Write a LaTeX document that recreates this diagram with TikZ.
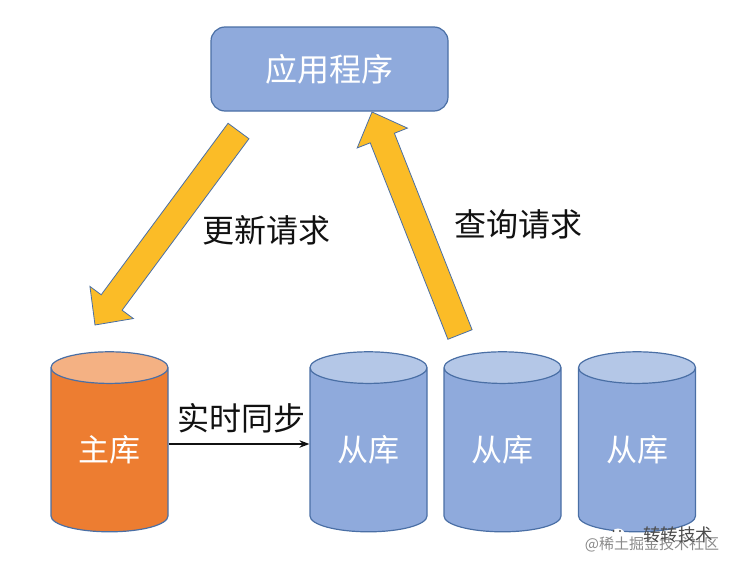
\documentclass[tikz,border=0pt]{standalone}
\usepackage{fontspec}
\setmainfont{Noto Sans CJK SC}
\usepackage{xcolor}
\usetikzlibrary{arrows.meta, calc, shapes.geometric}
\definecolor{mBlue}{HTML}{8FAADC}
\definecolor{mBlueTop}{HTML}{B4C7E7}
\definecolor{mOrange}{HTML}{ED7D31}
\definecolor{mOrangeTop}{HTML}{F4B183}
\definecolor{mYellow}{HTML}{FBBC27}
\definecolor{mEdge}{HTML}{4A6FA5}
\definecolor{mInk}{HTML}{111111}
\definecolor{mMark}{HTML}{8A8A8A}
\tikzset{
  appbox/.style={draw=mEdge, fill=mBlue, line width=1.2pt, rounded corners=14pt,
    minimum width=237pt, minimum height=84pt, text=white, font=\fontsize{32}{36}\selectfont},
  dbase/.style={cylinder, shape border rotate=90, aspect=0.51, draw=mEdge, line width=1.2pt,
    minimum width=117pt, minimum height=180pt, cylinder uses custom fill, text=white,
    font=\fontsize{31}{36}\selectfont, inner sep=0pt},
  slavedb/.style={dbase, cylinder body fill=mBlue, cylinder end fill=mBlueTop},
  masterdb/.style={dbase, cylinder body fill=mOrange, cylinder end fill=mOrangeTop},
  tag/.style={text=mInk, font=\fontsize{32}{36}\selectfont, inner sep=0pt},
  blockarrow/.style={draw=mEdge, fill=mYellow, line width=0.8pt, line join=miter},
}
\newcommand{\blockarrow}[2]{
  \coordinate (neck) at ($(#2)!28pt!(#1)$);
  \draw[blockarrow] ($(#1)!13pt!90:(#2)$) -- ($(neck)!13pt!90:(#2)$) -- ($(neck)!27pt!90:(#2)$)
    -- (#2) -- ($(neck)!27pt!-90:(#2)$) -- ($(neck)!13pt!-90:(#2)$) -- ($(#1)!13pt!-90:(#2)$) -- cycle;
}

\begin{document}
\begin{tikzpicture}[x=1pt, y=-1pt, >={Stealth[length=10pt]}]
  \useasboundingbox (0,0) rectangle (738,570);
  % application and databases
  \node[appbox] (app) at (329.5,69) {应用程序};
  \node[masterdb] (master) at (109.5,450) {主库};
  \node[slavedb] (slaveA) at (368.5,450) {从库};
  \node[slavedb] (slaveB) at (502.5,450) {从库};
  \node[slavedb] (slaveC) at (637,450) {从库};
  % request arrows
  \coordinate (updateTail) at (238.5,131);
  \coordinate (updateTip) at (95,325);
  \coordinate (queryTail) at (460,334.5);
  \coordinate (queryTip) at (372,112);
  \blockarrow{updateTail}{updateTip}
  \blockarrow{queryTail}{queryTip}
  \node[tag] (updateLabel) at (266,230) {更新请求};
  \node[tag] (queryLabel) at (518,224) {查询请求};
  % replication
  \draw[->, line width=1.5pt, mInk] ([yshift=6pt]master.east) -- ([yshift=6pt]slaveA.west);
  \node[tag] (syncLabel) at (241,418) {实时同步};
  % watermark
  \node[fill=white, circle, inner sep=0pt, minimum size=15pt] (markIcon) at (618,536) {};
  \fill[mInk!75] (613.5,531) circle (1.2pt) (620,531) circle (1.2pt);
  \node[text=mMark, font=\fontsize{15}{18}\selectfont, inner sep=0pt] (markSite) at (652,544) {@稀土掘金技术社区};
  \node[text=mInk!75, font=\fontsize{17.5}{20}\selectfont, inner sep=0pt] (markName) at (678,535) {转转技术};
\end{tikzpicture}
\end{document}
